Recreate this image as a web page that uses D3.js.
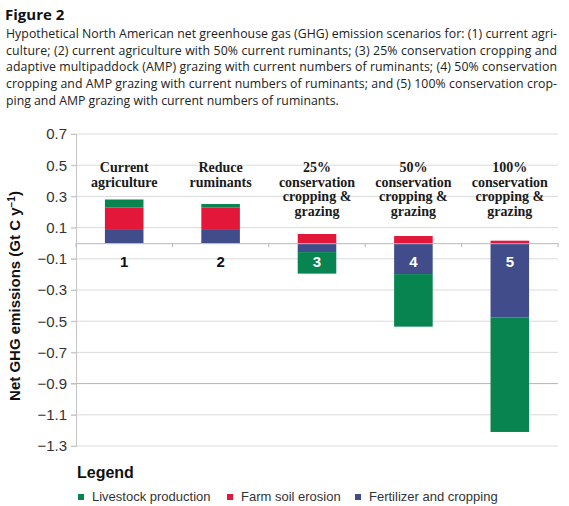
<!DOCTYPE html>
<html>
<head>
<meta charset="utf-8">
<script src="https://cdn.jsdelivr.net/npm/d3@7"></script>
<style>
  body { margin: 0; background: #fff; }
</style>
</head>
<body>
<div id="chart-area"></div>
<script>
// scenario data (Gt C per year)
var scenarios = ["1", "2", "3", "4", "5"];
var scenarioLabels = [
    ["Current", "agriculture"],
    ["Reduce", "ruminants"],
    ["25%", "conservation", "cropping &", "grazing"],
    ["50%", "conservation", "cropping &", "grazing"],
    ["100%", "conservation", "cropping &", "grazing"]
];
var livestock = [0.052, 0.023, -0.138, -0.337, -0.735];
var soilErosion = [0.143, 0.143, 0.059, 0.046, 0.016];
var fertilizer = [0.085, 0.085, -0.057, -0.198, -0.475];

var yTicks = [0.7, 0.5, 0.3, 0.1, -0.1, -0.3, -0.5, -0.7, -0.9, -1.1, -1.3];

var seriesNames = ["Livestock production", "Farm soil erosion", "Fertilizer and cropping"];
var seriesColors = ["#07844f", "#e2173a", "#414d8a"];

var captionLines = [
    "Hypothetical North American net greenhouse gas (GHG) emission scenarios for: (1) current agri-",
    "culture; (2) current agriculture with 50% current ruminants; (3) 25% conservation cropping and",
    "adaptive multipaddock (AMP) grazing with current numbers of ruminants; (4) 50% conservation",
    "cropping and AMP grazing with current numbers of ruminants; and (5) 100% conservation crop-",
    "ping and AMP grazing with current numbers of ruminants."
];

var svg = d3.select("#chart-area")
    .append("svg")
    .attr("width", 569)
    .attr("height", 506);

// header
svg.append("text")
    .attr("x", 5)
    .attr("y", 20)
    .attr("font-family", "Open Sans, sans-serif")
    .attr("font-weight", "bold")
    .attr("font-size", 15)
    .attr("fill", "#111")
    .text("Figure 2");

svg.selectAll("text.caption")
        .data(captionLines)
    .enter()
        .append("text")
        .attr("class", "caption")
        .attr("x", 6)
        .attr("y", function(d, i) { return 38 + i * 16.7; })
        .attr("font-family", "Open Sans, sans-serif")
        .attr("font-size", 12.3)
        .attr("fill", "#222")
        .attr("textLength", function(d, i) { return i < 4 ? 551 : null; })
        .attr("lengthAdjust", "spacing")
        .text(function(d) { return d; });

// table the stack wants
var rows = scenarios.map(function(s, i) {
    return {
        scenario: s,
        "Fertilizer and cropping": fertilizer[i],
        "Farm soil erosion": soilErosion[i],
        "Livestock production": livestock[i]
    };
});

var stackKeys = ["Fertilizer and cropping", "Farm soil erosion", "Livestock production"];
var stacked = d3.stack()
    .keys(stackKeys)
    .offset(d3.stackOffsetDiverging)(rows);

var left = 76, right = 558;

var x = d3.scaleBand()
    .domain(scenarios)
    .range([left, right])
    .paddingInner(0.6)
    .paddingOuter(0.3);

var y = d3.scaleLinear()
    .domain([-1.3, 0.7])
    .range([446, 134]);

var color = d3.scaleOrdinal()
    .domain(seriesNames)
    .range(seriesColors);

// gridlines
svg.append("g")
    .selectAll("line")
        .data(yTicks)
    .enter()
        .append("line")
        .attr("x1", left - 5)
        .attr("x2", right)
        .attr("y1", function(d) { return y(d); })
        .attr("y2", function(d) { return y(d); })
        .attr("stroke", function(d) { return d === -0.9 ? "#b4b4b4" : "#dadada"; })
        .attr("stroke-width", 1);

// y axis
var yAxis = d3.axisLeft(y)
    .tickValues(yTicks)
    .tickSize(5)
    .tickPadding(4)
    .tickFormat(function(d) { return d3.format(".1f")(d).replace("-", "\u2212"); });

var yAxisGroup = svg.append("g")
    .attr("transform", "translate(" + left + ",0)")
    .call(yAxis);

yAxisGroup.select(".domain").attr("stroke", "#c4c4c4");
yAxisGroup.selectAll(".tick line").attr("stroke", "#c4c4c4");
yAxisGroup.selectAll(".tick text")
    .attr("font-family", "Liberation Sans, Arial, sans-serif")
    .attr("font-size", 15)
    .attr("fill", "#333");

svg.append("text")
    .attr("transform", "translate(20,296) rotate(-90)")
    .attr("text-anchor", "middle")
    .attr("font-family", "Liberation Sans, Arial, sans-serif")
    .attr("font-weight", "bold")
    .attr("font-size", 15)
    .attr("fill", "#111")
    .text("Net GHG emissions (Gt C y")
    .append("tspan")
        .attr("baseline-shift", "super")
        .attr("font-size", 10)
        .text("\u22121")
    .select(function() { return this.parentNode; })
    .append("tspan")
        .text(")");

// bars
svg.append("g")
    .selectAll("g")
        .data(stacked)
    .enter()
        .append("g")
        .attr("fill", function(d) { return color(d.key); })
    .selectAll("rect")
        .data(function(d) { return d; })
    .enter()
        .append("rect")
        .attr("x", function(d) { return x(d.data.scenario); })
        .attr("width", x.bandwidth())
        .attr("y", function(d) { return y(d[1]); })
        .attr("height", function(d) { return y(d[0]) - y(d[1]); });

// zero line with category ticks
var xAxis = d3.axisBottom(x)
    .tickSize(0)
    .tickFormat("");

var xAxisGroup = svg.append("g")
    .attr("transform", "translate(0," + y(0) + ")")
    .call(xAxis);
xAxisGroup.select(".domain").attr("stroke", "#b8b8b8");

var step = x.step();
svg.append("g")
    .selectAll("line")
        .data(d3.range(scenarios.length + 1))
    .enter()
        .append("line")
        .attr("x1", function(i) { return left + i * step; })
        .attr("x2", function(i) { return left + i * step; })
        .attr("y1", y(0))
        .attr("y2", y(0) + 4)
        .attr("stroke", "#b8b8b8");

// scenario numbers
svg.append("g")
    .selectAll("text")
        .data(scenarios)
    .enter()
        .append("text")
        .attr("x", function(d) { return x(d) + x.bandwidth() / 2; })
        .attr("y", y(0) + 24)
        .attr("text-anchor", "middle")
        .attr("font-family", "Liberation Sans, Arial, sans-serif")
        .attr("font-weight", "bold")
        .attr("font-size", 15)
        .attr("fill", function(d, i) { return i < 2 ? "#111" : "#fff"; })
        .text(function(d) { return d; });

// scenario names above bars
var nameGroups = svg.append("g")
    .selectAll("text")
        .data(scenarioLabels)
    .enter()
        .append("text")
        .attr("text-anchor", "middle")
        .attr("font-family", "Liberation Serif, Times New Roman, serif")
        .attr("font-weight", "bold")
        .attr("font-size", 14)
        .attr("fill", "#1a1a1a");

nameGroups.selectAll("tspan")
        .data(function(d, i) {
            return d.map(function(line) { return { line: line, s: scenarios[i] }; });
        })
    .enter()
        .append("tspan")
        .attr("x", function(d) { return x(d.s) + x.bandwidth() / 2; })
        .attr("y", function(d, j) { return 172 + j * 14.7; })
        .text(function(d) { return d.line; });

// legend
svg.append("text")
    .attr("x", 77)
    .attr("y", 478)
    .attr("font-family", "Liberation Sans, Arial, sans-serif")
    .attr("font-weight", "bold")
    .attr("font-size", 16)
    .attr("fill", "#111")
    .text("Legend");

var legendX = [78, 227, 355];
var legendItems = svg.append("g")
    .selectAll("g")
        .data(seriesNames)
    .enter()
        .append("g")
        .attr("transform", function(d, i) { return "translate(" + legendX[i] + ",494)"; });

legendItems.append("rect")
    .attr("width", 6)
    .attr("height", 6)
    .attr("fill", function(d) { return color(d); });

legendItems.append("text")
    .attr("x", 14)
    .attr("y", 7)
    .attr("font-family", "Liberation Sans, Arial, sans-serif")
    .attr("font-size", 13)
    .attr("fill", "#333")
    .text(function(d) { return d; });
</script>
</body>
</html>
